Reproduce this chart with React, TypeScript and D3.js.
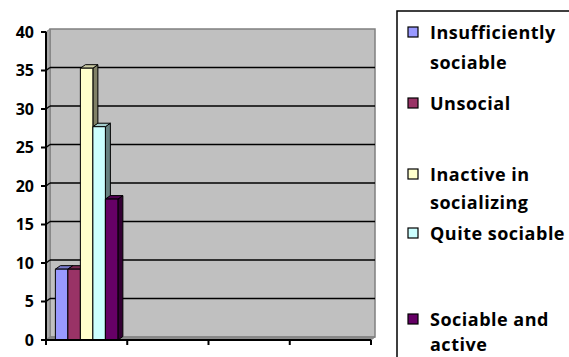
import React from "react";
import * as d3 from "d3";

// Share of respondents by sociability type (single group)
const seriesNames = [
  "Insufficiently sociable",
  "Unsocial",
  "Inactive in socializing",
  "Quite sociable",
  "Sociable and active",
];
const seriesValues = [9.2, 9.2, 35.3, 27.7, 18.3];
const legendLines = [
  ["Insufficiently", "sociable"],
  ["Unsocial"],
  ["Inactive in", "socializing"],
  ["Quite sociable"],
  ["Sociable and", "active"],
];
const categories = ["A", "B", "C", "D"];
const yTicks = [0, 5, 10, 15, 20, 25, 30, 35, 40];

const frontColors = ["#9999FF", "#993366", "#FFFFCC", "#CCFFFF", "#660066"];

const W = 569;
const H = 357;
const FONT = "'Open Sans', 'Liberation Sans', sans-serif";

export default function App() {
  const x0 = 46;
  const x1 = 371;
  const yBase = 340;
  const yTop = 32;
  const wallDx = 4;
  const wallDy = 3;
  const barDx = 5;
  const barDy = 3.5;

  const y = d3.scaleLinear().domain([0, 40]).range([yBase, yTop]);
  const xCat = d3.scaleBand().domain(categories).range([x0, x1]).padding(0);
  const bw = xCat.bandwidth();
  const groupW = bw / 1.3;
  const xSeries = d3
    .scaleBand()
    .domain(seriesNames)
    .range([xCat(categories[0])! + (bw - groupW) / 2, xCat(categories[0])! + (bw + groupW) / 2]);

  const darker = (c: string, k: number) => {
    const col = d3.rgb(c);
    return d3.rgb(col.r * k, col.g * k, col.b * k).formatHex();
  };

  // baselines of each legend entry's lines
  const legendBaselines = [[39, 69], [110], [181, 209], [240], [326, 351]];

  return (
    <svg width={W} height={H} style={{ position: "absolute", left: 0, top: 0 }}>
      <rect x={0} y={0} width={W} height={H} fill="#ffffff" />
      {/* back wall */}
      <rect
        x={x0 + wallDx}
        y={yTop - wallDy}
        width={x1 - x0}
        height={yBase - yTop}
        fill="#C0C0C0"
        stroke="#808080"
        strokeWidth={1.5}
      />
      {/* left side wall */}
      <polygon
        points={`${x0},${yTop} ${x0 + wallDx},${yTop - wallDy} ${x0 + wallDx},${yBase - wallDy} ${x0},${yBase}`}
        fill="#A8A8A8"
        stroke="#808080"
        strokeWidth={1}
      />
      {/* floor */}
      <polygon
        points={`${x0},${yBase} ${x0 + wallDx},${yBase - wallDy} ${x1 + wallDx},${yBase - wallDy} ${x1},${yBase}`}
        fill="#8C8C8C"
        stroke="#808080"
        strokeWidth={1}
      />
      {/* gridlines */}
      {yTicks
        .filter((t) => t > 0 && t < 40)
        .map((t) => (
          <g key={t}>
            <line
              x1={x0}
              x2={x0 + wallDx}
              y1={y(t)}
              y2={y(t) - wallDy}
              stroke="#000"
              strokeWidth={1.5}
            />
            <line
              x1={x0 + wallDx}
              x2={x1 + wallDx}
              y1={y(t) - wallDy}
              y2={y(t) - wallDy}
              stroke="#000"
              strokeWidth={1.5}
            />
          </g>
        ))}
      {/* bars */}
      {seriesNames.map((s, i) => {
        const bx = xSeries(s)!;
        const w = xSeries.bandwidth();
        const by = y(seriesValues[i]);
        const c = frontColors[i];
        return (
          <g key={s} stroke="#000" strokeWidth={1} strokeLinejoin="round">
            <polygon
              points={`${bx + w},${by} ${bx + w + barDx},${by - barDy} ${bx + w + barDx},${yBase - barDy} ${bx + w},${yBase}`}
              fill={darker(c, 0.5)}
            />
            <polygon
              points={`${bx},${by} ${bx + barDx},${by - barDy} ${bx + w + barDx},${by - barDy} ${bx + w},${by}`}
              fill={darker(c, 0.8)}
            />
            <rect x={bx} y={by} width={w} height={yBase - by} fill={c} />
          </g>
        );
      })}
      {/* axes */}
      <line x1={x0} x2={x0} y1={yTop} y2={yBase} stroke="#000" strokeWidth={2} />
      <line x1={x0} x2={x1} y1={yBase} y2={yBase} stroke="#000" strokeWidth={2} />
      {yTicks.map((t) => (
        <g key={t}>
          <line x1={x0 - 5} x2={x0} y1={y(t)} y2={y(t)} stroke="#000" strokeWidth={2} />
          <text
            x={34}
            y={y(t)}
            dy="0.36em"
            textAnchor="end"
            fontFamily={FONT}
            fontWeight="bold"
            fontSize={16}
            fill="#000"
          >
            {t}
          </text>
        </g>
      ))}
      {[...categories.map((c) => xCat(c)!), x1].map((px, i) => (
        <line key={i} x1={px} x2={px} y1={yBase} y2={yBase + 5} stroke="#000" strokeWidth={2} />
      ))}
      {/* legend */}
      <rect x={397} y={11} width={190} height={360} fill="#fff" stroke="#000" strokeWidth={1.5} />
      {seriesNames.map((s, i) => (
        <g key={s}>
          <rect
            x={408}
            y={legendBaselines[i][0] - 12}
            width={10}
            height={10}
            fill={frontColors[i]}
            stroke="#000"
            strokeWidth={1.2}
          />
          {legendLines[i].map((ln, j) => (
            <text
              key={j}
              x={430}
              y={legendBaselines[i][j]}
              fontFamily={FONT}
              fontWeight="bold"
              fontSize={18}
              letterSpacing={0.5}
              fill="#000"
            >
              {ln}
            </text>
          ))}
        </g>
      ))}
    </svg>
  );
}
